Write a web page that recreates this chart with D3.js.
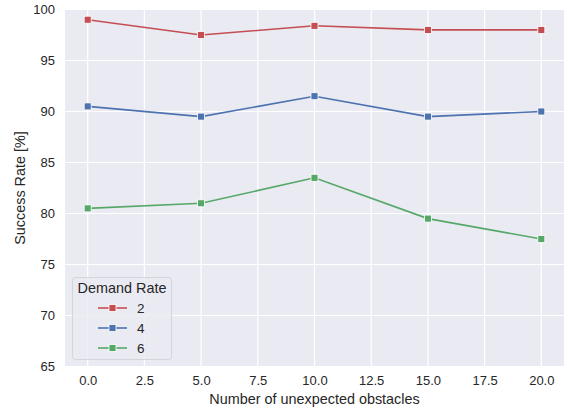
<!DOCTYPE html>
<html><head><meta charset="utf-8">
<script src="https://cdn.jsdelivr.net/npm/d3@7"></script>
<style>body{margin:0;background:#fff}svg{display:block}text{font-family:"Liberation Sans",Arial,sans-serif;fill:#262626}</style>
</head><body><svg id="c" width="568" height="414"></svg>
<script>
const xValues = [0, 5, 10, 15, 20];
const seriesNames = ["2", "4", "6"];
const rate2 = [99, 97.5, 98.4, 98, 98];
const rate4 = [90.5, 89.5, 91.5, 89.5, 90];
const rate6 = [80.5, 81, 83.5, 79.5, 77.5];
const xTicks = [0, 2.5, 5, 7.5, 10, 12.5, 15, 17.5, 20];
const yTicks = [65, 70, 75, 80, 85, 90, 95, 100];
const colors = ["#C44E52", "#4C72B0", "#55A868"];
const series = [rate2, rate4, rate6];

const svg = d3.select("#c");
const L = 65, R = 564, T = 9.5, B = 366.5;
const x = d3.scaleLinear().domain([-1, 21]).range([L, R]);
const y = d3.scaleLinear().domain([65, 100]).range([B, T]);

svg.append("rect").attr("x", L).attr("y", T).attr("width", R - L).attr("height", B - T).attr("fill", "#EAEAF2");

const gx = svg.append("g").attr("transform", `translate(0,${B})`)
  .call(d3.axisBottom(x).tickValues(xTicks).tickFormat(d3.format(".1f")).tickSize(0).tickPadding(9));
gx.select(".domain").remove();
gx.selectAll(".tick line").remove();
gx.selectAll("text").attr("font-size", 13).attr("fill", "#262626").style("font-family", '"Liberation Sans",Arial,sans-serif');

const gy = svg.append("g").attr("transform", `translate(${L},0)`)
  .call(d3.axisLeft(y).tickValues(yTicks).tickFormat(d3.format("d")).tickSize(0).tickPadding(10));
gy.select(".domain").remove();
gy.selectAll("text").attr("font-size", 13).attr("fill", "#262626").style("font-family", '"Liberation Sans",Arial,sans-serif');

// grid
svg.append("g").selectAll("line").data(xTicks).join("line")
  .attr("x1", d => x(d)).attr("x2", d => x(d)).attr("y1", T).attr("y2", B)
  .attr("stroke", "#fff").attr("stroke-width", 1.2);
svg.append("g").selectAll("line").data(yTicks).join("line")
  .attr("y1", d => y(d)).attr("y2", d => y(d)).attr("x1", L).attr("x2", R)
  .attr("stroke", "#fff").attr("stroke-width", 1.2);

const line = d3.line().x((d, i) => x(xValues[i])).y(d => y(d));
series.forEach((s, k) => {
  svg.append("path").datum(s).attr("d", line).attr("fill", "none")
    .attr("stroke", colors[k]).attr("stroke-width", 1.6);
  svg.append("g").selectAll("rect").data(s).join("rect")
    .attr("x", (d, i) => x(xValues[i]) - 3.5).attr("y", d => y(d) - 3.5)
    .attr("width", 7).attr("height", 7).attr("fill", colors[k])
    .attr("stroke", "#fff").attr("stroke-width", 0.8);
});

// axis labels
svg.append("text").attr("x", (L + R) / 2).attr("y", 404).attr("text-anchor", "middle")
  .attr("font-size", 14.4).text("Number of unexpected obstacles");
svg.append("text").attr("transform", `translate(25,${(T + B) / 2}) rotate(-90)`)
  .attr("text-anchor", "middle").attr("font-size", 14.4).text("Success Rate [%]");

// legend
const lg = svg.append("g");
lg.append("rect").attr("x", 72.5).attr("y", 277.5).attr("width", 99).attr("height", 82).attr("rx", 3)
  .attr("fill", "#EAEAF2").attr("fill-opacity", 0.8).attr("stroke", "#d4d4dc").attr("stroke-width", 1);
lg.append("text").attr("x", 122).attr("y", 293).attr("text-anchor", "middle").attr("font-size", 14.4).text("Demand Rate");
seriesNames.forEach((n, k) => {
  const yy = 308 + k * 20;
  lg.append("line").attr("x1", 98).attr("x2", 127).attr("y1", yy).attr("y2", yy)
    .attr("stroke", colors[k]).attr("stroke-width", 1.6);
  lg.append("rect").attr("x", 112.5 - 3.5).attr("y", yy - 3.5).attr("width", 7).attr("height", 7)
    .attr("fill", colors[k]).attr("stroke", "#fff").attr("stroke-width", 0.8);
  lg.append("text").attr("x", 137).attr("y", yy + 5).attr("font-size", 13.5).text(n);
});
</script></body></html>
